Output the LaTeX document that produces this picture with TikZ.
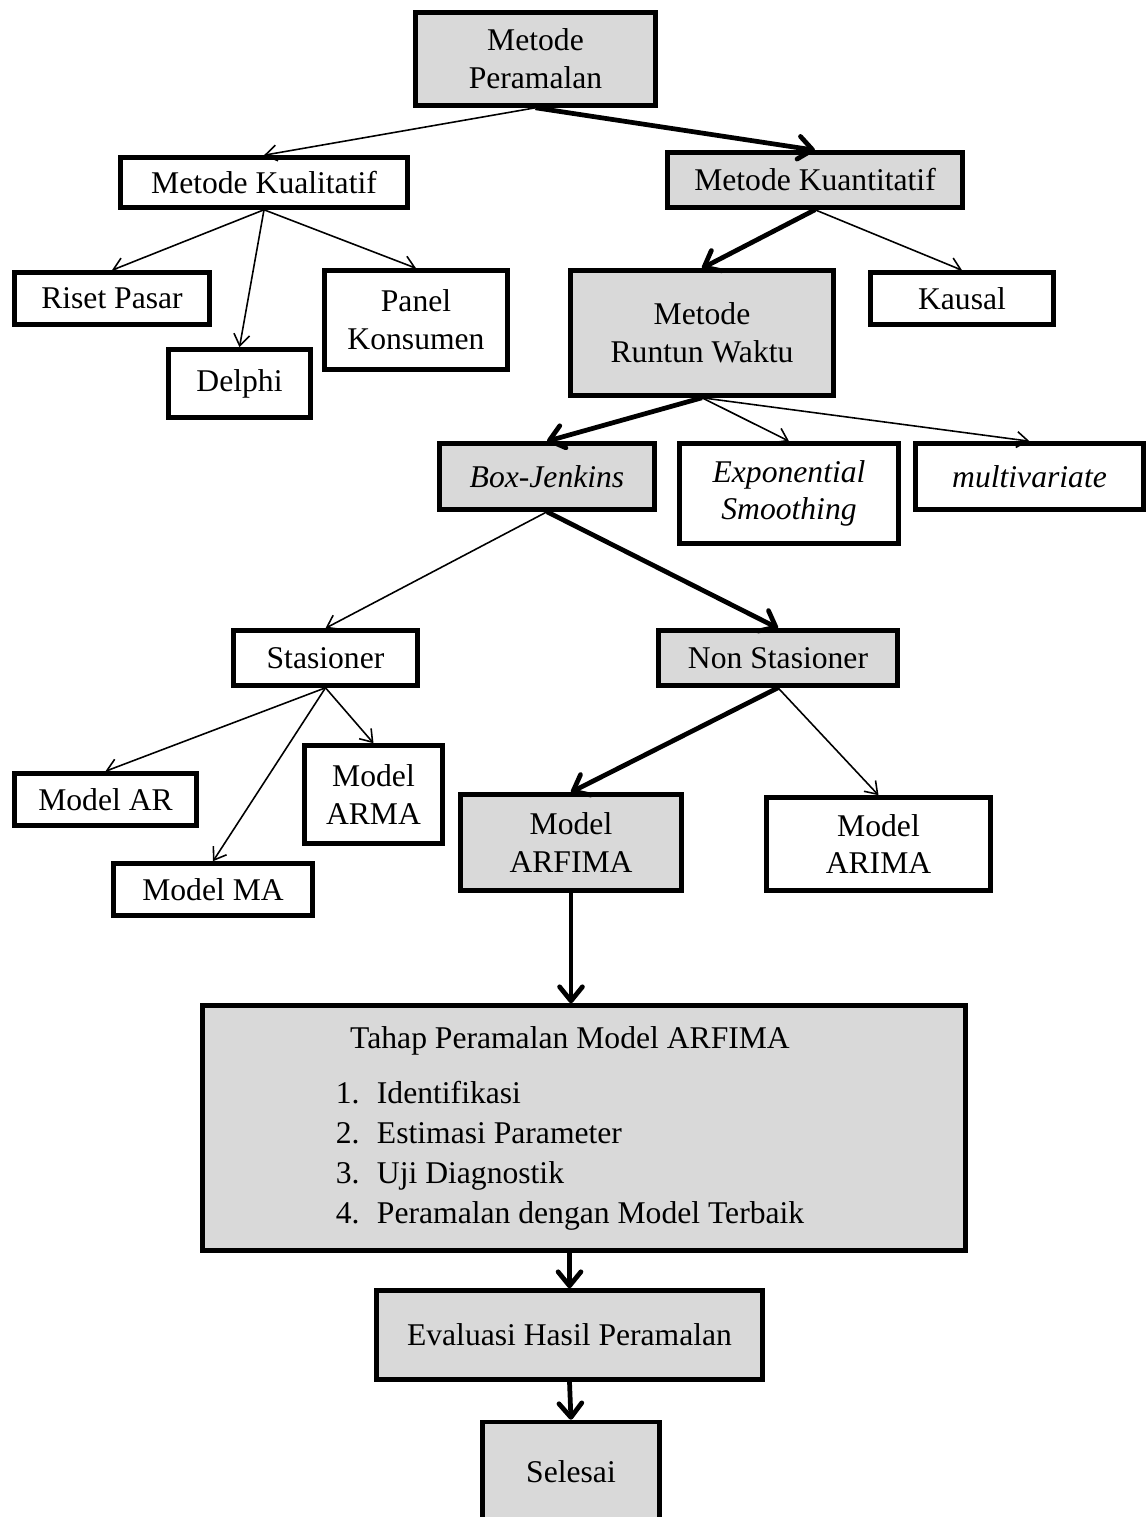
\documentclass[tikz,border=0pt]{standalone}
\usepackage{fontspec}
\setmainfont{Liberation Serif}
\usetikzlibrary{arrows.meta}

\tikzset{
  kotak/.style={draw, line width=2.6pt, rectangle, inner sep=0pt, align=center,
                font=\fontsize{18}{21.5}\selectfont},
  abu/.style={kotak, fill=abuabu},
  tipis/.style={-{Straight Barb[length=6.5pt,width=9pt]}, line width=0.9pt},
  tebal/.style={-{Straight Barb[length=8pt,width=13pt,round]}, line width=2.7pt}
}
\definecolor{abuabu}{HTML}{D9D9D9}

\begin{document}
\begin{tikzpicture}[x=0.02cm, y=-0.02cm]
    \useasboundingbox (0,0) rectangle (1148,1517);

    % --- Top level ---
    \node[abu, minimum width=4.8cm, minimum height=1.86cm] (peramalan) at (535.5, 59) {Metode\\Peramalan};

    % --- Kualitatif and Kuantitatif ---
    \node[kotak, minimum width=5.74cm, minimum height=1.0cm] (kualitatif) at (264, 182.5) {Metode Kualitatif};
    \node[abu, minimum width=5.9cm, minimum height=1.1cm] (kuantitatif) at (815, 180) {Metode Kuantitatif};

    % Children of Metode Kualitatif
    \node[kotak, minimum width=3.9cm, minimum height=1.04cm] (riset) at (112, 298.5) {Riset Pasar};
    \node[kotak, minimum width=2.84cm, minimum height=1.36cm] (delphi) at (239.5, 383.5) {Delphi};
    \node[kotak, minimum width=3.66cm, minimum height=1.98cm] (panel) at (416, 320) {Panel\\Konsumen};

    % Children of Metode Kuantitatif
    \node[abu, minimum width=5.26cm, minimum height=2.5cm] (runtun) at (702, 333) {Metode\\Runtun Waktu};
    \node[kotak, minimum width=3.66cm, minimum height=1.04cm] (kausal) at (962, 298.5) {Kausal};

    % --- Runtun Waktu methods ---
    \node[abu, minimum width=4.3cm, minimum height=1.32cm] (boxjenkins) at (547, 476.5) {\itshape Box-Jenkins};
    \node[kotak, minimum width=4.38cm, minimum height=2.0cm] (exponential) at (789, 493.5) {\itshape Exponential\\\itshape Smoothing};
    \node[kotak, minimum width=4.56cm, minimum height=1.32cm] (multivariate) at (1029.5, 476.5) {\itshape multivariate};

    % --- Stasioner / Non Stasioner ---
    \node[kotak, minimum width=3.68cm, minimum height=1.1cm] (stasioner) at (325.5, 658) {Stasioner};
    \node[abu, minimum width=4.78cm, minimum height=1.1cm] (nonstasioner) at (778, 658) {Non Stasioner};

    % Models under Stasioner
    \node[kotak, minimum width=3.64cm, minimum height=1.04cm] (modelar) at (105.5, 799.5) {Model AR};
    \node[kotak, minimum width=3.98cm, minimum height=1.04cm] (modelma) at (213, 889.5) {Model MA};
    \node[kotak, minimum width=2.76cm, minimum height=1.96cm] (modelarma) at (373.5, 794.5) {Model\\ARMA};

    % Models under Non Stasioner
    \node[abu, minimum width=4.42cm, minimum height=1.92cm] (arfima) at (571, 842.5) {Model\\ARFIMA};
    \node[kotak, minimum width=4.48cm, minimum height=1.86cm] (arima) at (878.5, 844) {Model\\ARIMA};

    % --- Forecasting stages ---
    \node[abu, minimum width=15.26cm, minimum height=4.9cm] (tahap) at (584, 1128) {%
      \begin{tabular}{@{}c@{}}
        Tahap Peramalan Model ARFIMA\\[10pt]
        \begin{tabular}{@{}r@{\hspace{0.55em}}l@{}}
          1. & Identifikasi\\[1.2pt]
          2. & Estimasi Parameter\\[1.2pt]
          3. & Uji Diagnostik\\[1.2pt]
          4. & Peramalan dengan Model Terbaik
        \end{tabular}
      \end{tabular}\hspace{0.56cm}};
    \node[abu, minimum width=7.72cm, minimum height=1.78cm] (evaluasi) at (569.5, 1335) {Evaluasi Hasil Peramalan};
    \node[abu, minimum width=3.54cm, minimum height=2.0cm] (selesai) at (571, 1472) {Selesai};

    % --- Arrows ---
    \draw[tipis] (peramalan.south) -- (kualitatif.north);
    \draw[tebal] (peramalan.south) -- (kuantitatif.north);

    \draw[tipis] (kualitatif.south) -- (riset.north);
    \draw[tipis] (kualitatif.south) -- (delphi.north);
    \draw[tipis] (kualitatif.south) -- (panel.north);

    \draw[tebal] (kuantitatif.south) -- (runtun.north);
    \draw[tipis] (kuantitatif.south) -- (kausal.north);

    \draw[tebal] (runtun.south) -- (boxjenkins.north);
    \draw[tipis] (runtun.south) -- (exponential.north);
    \draw[tipis] (runtun.south) -- (multivariate.north);

    \draw[tipis] (boxjenkins.south) -- (stasioner.north);
    \draw[tebal] (boxjenkins.south) -- (nonstasioner.north);

    \draw[tipis] (stasioner.south) -- (modelar.north);
    \draw[tipis] (stasioner.south) -- (modelma.north);
    \draw[tipis] (stasioner.south) -- (modelarma.north);

    \draw[tebal] (nonstasioner.south) -- (arfima.north);
    \draw[tipis] (nonstasioner.south) -- (arima.north);

    \draw[tebal] (arfima.south) -- (arfima.south |- tahap.north);
    \draw[tebal] (tahap.south -| evaluasi.north) -- (evaluasi.north);
    \draw[tebal] (evaluasi.south) -- (selesai.north);
\end{tikzpicture}
\end{document}
